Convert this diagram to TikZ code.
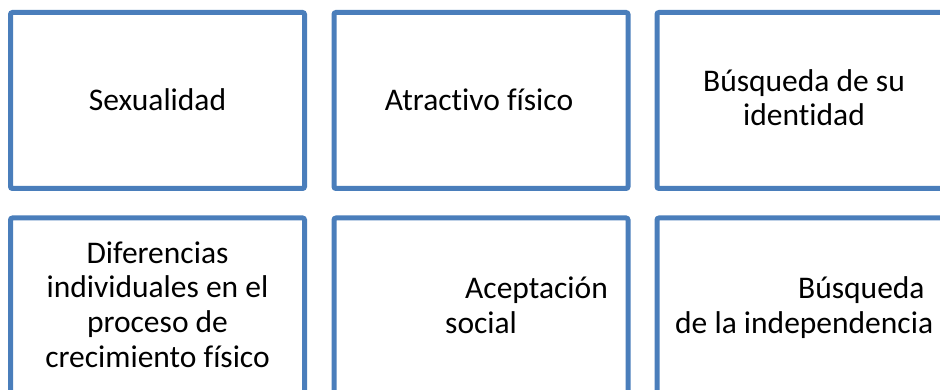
\documentclass[tikz,border=0pt]{standalone}
\usepackage{fontspec}
\setmainfont{Carlito}[Ligatures=NoCommon]
\definecolor{boxblue}{RGB}{74,126,187}
\begin{document}
\begin{tikzpicture}[x=1pt,y=-1pt,
    box/.style={draw=boxblue,line width=5pt,rounded corners=2pt,minimum width=294pt,minimum height=176pt,inner sep=0pt},
    boxtext/.style={font=\fontsize{31.5}{34.6}\selectfont,inner sep=0pt,anchor=base}]
      \useasboundingbox (0,0) rectangle (940,390);
      \clip (0,0) rectangle (940,390);
      \node[box] (sexualidad) at (157.5,100.5) {};
      \node[box] (atractivo) at (481,100.5) {};
      \node[box] (identidad) at (804,100.5) {};
      \node[box] (diferencias) at (157.5,306) {};
      \node[box] (aceptacion) at (481,306) {};
      \node[box] (independencia) at (804,306) {};
      \node[boxtext] (sexualidadtxt) at (157.5,111) {Sexualidad};
      \node[boxtext] (atractivotxt) at (479,111) {Atractivo físico};
      \node[boxtext,align=center] (identidadtxt) at (804,126) {Búsqueda de su\\identidad};
      \node[boxtext,align=center] (diferenciastxt) at (157.5,367) {Diferencias\\individuales en el\\proceso de\\crecimiento físico};
      \node[boxtext,align=left,anchor=base west] (aceptaciontxt) at (445,333) {\hspace*{20pt}Aceptación\\social};
      \node[boxtext,align=left,anchor=base west] (independenciatxt) at (675,333) {\hspace*{123pt}Búsqueda\\de la independencia};
    \end{tikzpicture}
\end{document}
